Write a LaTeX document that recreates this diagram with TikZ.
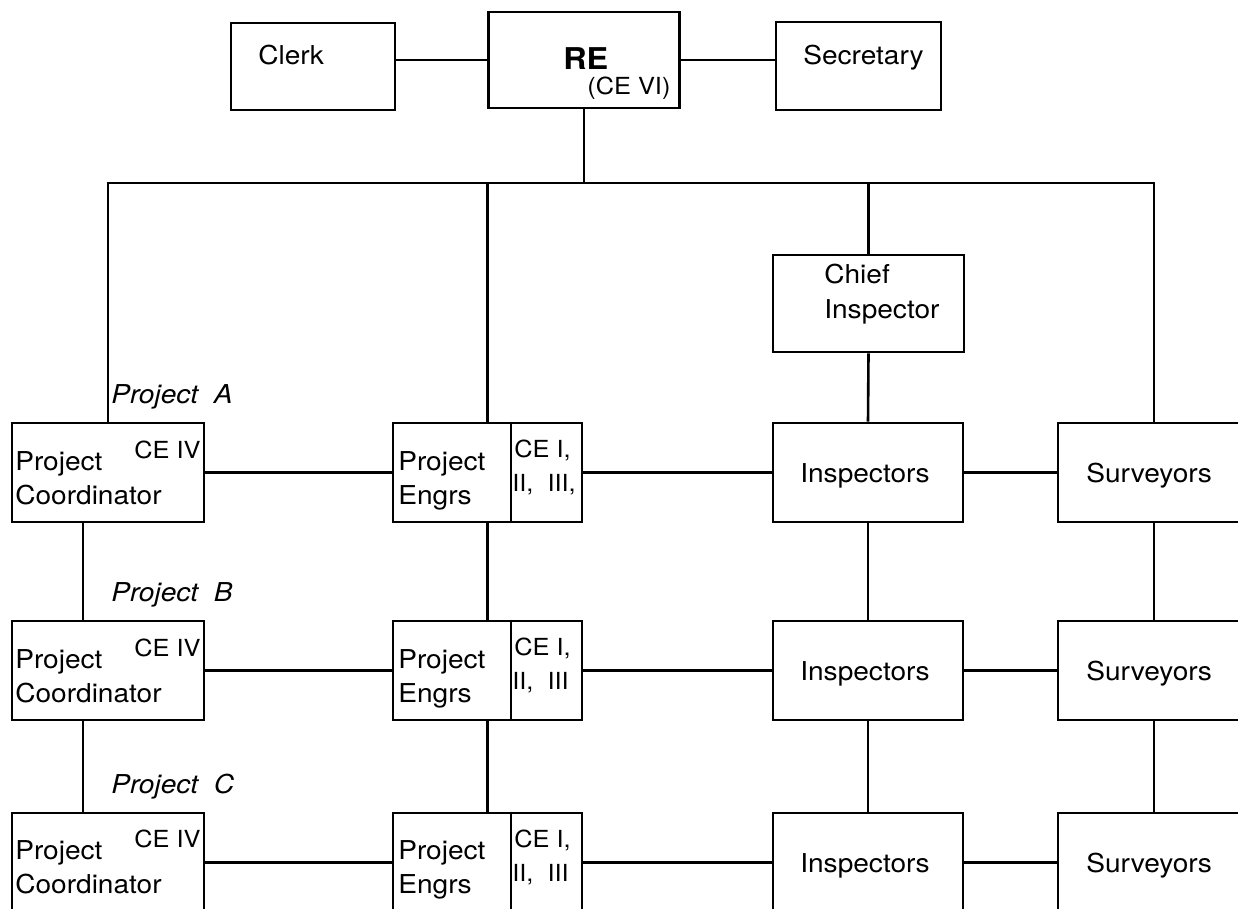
\documentclass[tikz,border=0pt]{standalone}
\usepackage{fontspec}
\setmainfont{TeX Gyre Heros}[FakeStretch=1.08]
\tikzset{
  unit/.style={draw,inner sep=0pt},
  txt/.style={anchor=base west,inner sep=0pt,font=\fontsize{26}{30}\selectfont},
  grade/.style={anchor=base west,inner sep=0pt,font=\fontsize{23.5}{27}\selectfont},
  proj/.style={anchor=base west,inner sep=0pt,font=\fontsize{26}{30}\selectfont\itshape},
}
\begin{document}
\begin{tikzpicture}[x=1pt,y=-1pt,line width=2.6pt]
\useasboundingbox (0,0) rectangle (1238,909);
\clip (0,0) rectangle (1238,909);
% head office
\node[unit,minimum width=164pt,minimum height=87pt] (clerk) at (313,66.5) {};
\node[unit,minimum width=191pt,minimum height=96pt] (re) at (584,60) {};
\node[unit,minimum width=165pt,minimum height=88pt] (sec) at (858.5,66) {};
\node[txt] (clerktxt) at (257,65) {Clerk};
\node[txt,font=\fontsize{30}{34}\selectfont\bfseries] (retxt) at (562,70) {RE};
\node[grade] (regrade) at (586,95) {(CE VI)};
\node[txt] (sectxt) at (802,65) {Secretary};
\draw (re.west) -- (re.west -| clerk.east);
\draw (re.east) -- (re.east -| sec.west);
\node[unit,minimum width=191pt,minimum height=97pt] (chief) at (868.5,303.5) {};
\node[txt] (chieftxt) at (823,283) {Chief};
\node[txt] (chieftxtb) at (823,318) {Inspector};
% project A
\node[unit,minimum width=192pt,minimum height=99pt] (pcA) at (108,472.5) {};
\node[unit,minimum width=189pt,minimum height=99pt] (peA) at (487.5,472.5) {};
\node[unit,minimum width=190pt,minimum height=99pt] (inA) at (868,472.5) {};
\node[unit,minimum width=192pt,minimum height=99pt] (suA) at (1154,472.5) {};
\node[proj] (labA) at (110,403) {Project~~A};
\node[txt] (pcAt) at (14,470) {Project};
\node[txt] (pcAb) at (14,504) {Coordinator};
\node[grade] (pcAg) at (133,458) {CE IV};
\node[txt] (peAt) at (397,470) {Project};
\node[txt] (peAb) at (397,504) {Engrs};
\node[grade] (peAg) at (513,457) {CE I,};
\node[grade] (peAh) at (511,491) {II,~~III,};
\node[txt] (inAt) at (799,482) {Inspectors};
\node[txt] (suAt) at (1085,482) {Surveyors};
% project B
\node[unit,minimum width=192pt,minimum height=99pt] (pcB) at (108,670.5) {};
\node[unit,minimum width=189pt,minimum height=99pt] (peB) at (487.5,670.5) {};
\node[unit,minimum width=190pt,minimum height=99pt] (inB) at (868,670.5) {};
\node[unit,minimum width=192pt,minimum height=99pt] (suB) at (1154,670.5) {};
\node[proj] (labB) at (110,601) {Project~~B};
\node[txt] (pcBt) at (14,668) {Project};
\node[txt] (pcBb) at (14,702) {Coordinator};
\node[grade] (pcBg) at (133,656) {CE IV};
\node[txt] (peBt) at (397,668) {Project};
\node[txt] (peBb) at (397,702) {Engrs};
\node[grade] (peBg) at (513,655) {CE I,};
\node[grade] (peBh) at (511,689) {II,~~III};
\node[txt] (inBt) at (799,680) {Inspectors};
\node[txt] (suBt) at (1085,680) {Surveyors};
% project C
\node[unit,minimum width=192pt,minimum height=99pt] (pcC) at (108,862.5) {};
\node[unit,minimum width=189pt,minimum height=99pt] (peC) at (487.5,862.5) {};
\node[unit,minimum width=190pt,minimum height=99pt] (inC) at (868,862.5) {};
\node[unit,minimum width=192pt,minimum height=99pt] (suC) at (1154,862.5) {};
\node[proj] (labC) at (110,793) {Project~~C};
\node[txt] (pcCt) at (14,859) {Project};
\node[txt] (pcCb) at (14,893) {Coordinator};
\node[grade] (pcCg) at (133,847) {CE IV};
\node[txt] (peCt) at (397,859) {Project};
\node[txt] (peCb) at (397,893) {Engrs};
\node[grade] (peCg) at (513,847) {CE I,};
\node[grade] (peCh) at (511,881) {II,~~III};
\node[txt] (inCt) at (799,872) {Inspectors};
\node[txt] (suCt) at (1085,872) {Surveyors};
% dividers in the engineers boxes
\draw ([xshift=23.5pt]peA.north) -- ([xshift=23.5pt]peA.south);
\draw ([xshift=23.5pt]peB.north) -- ([xshift=23.5pt]peB.south);
\draw ([xshift=23.5pt]peC.north) -- ([xshift=23.5pt]peC.south);
% bus
\coordinate (bus) at (0,183);
\draw (re.south) -- (re.south |- bus);
\draw (pcA.north) -- (pcA.north |- bus) -- (suA.north |- bus) -- (suA.north);
\draw (peA.north |- bus) -- (peA.north);
\draw (chief.north |- bus) -- (chief.north);
\draw (chief.south) -- (inA.north);
% rows
\draw (pcA.east) -- (peA.west);
\draw (peA.east) -- (inA.west);
\draw (inA.east) -- (suA.west);
\draw (pcB.east) -- (peB.west);
\draw (peB.east) -- (inB.west);
\draw (inB.east) -- (suB.west);
\draw (pcC.east) -- (peC.west);
\draw (peC.east) -- (inC.west);
\draw (inC.east) -- (suC.west);
% columns
\draw ([xshift=-25pt]pcA.south) -- ([xshift=-25pt]pcB.north);
\draw ([xshift=-25pt]pcB.south) -- ([xshift=-25pt]pcC.north);
\draw (peA.south) -- (peB.north);
\draw (peB.south) -- (peC.north);
\draw (inA.south) -- (inB.north);
\draw (inB.south) -- (inC.north);
\draw (suA.south) -- (suB.north);
\draw (suB.south) -- (suC.north);
\end{tikzpicture}
\end{document}
